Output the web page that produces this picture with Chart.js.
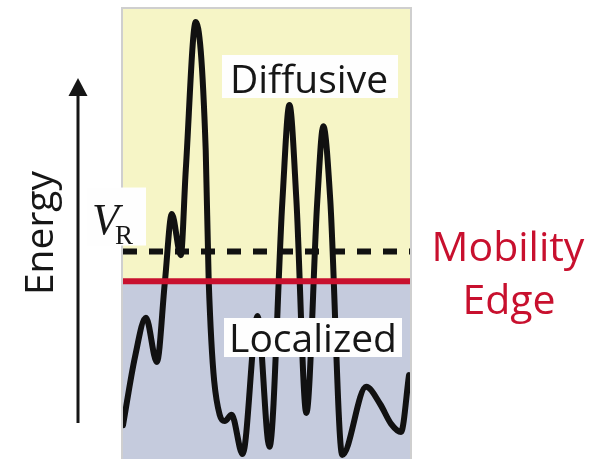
<!DOCTYPE html>
<html>
<head>
<meta charset="utf-8">
<script src="https://cdn.jsdelivr.net/npm/chart.js@4/dist/chart.umd.min.js"></script>
<style>
  html, body { margin: 0; padding: 0; background: #ffffff; }
  #wrap { width: 594px; height: 459px; position: relative; }
</style>
</head>
<body>
<div id="wrap"><canvas id="c" width="594" height="459"></canvas></div>
<script>
// Disordered potential landscape: position along the sample vs. energy
const positions = [0, 12, 23, 34, 42, 49, 58, 63, 73, 83, 86, 97, 102, 109, 120, 135, 147, 160, 167, 174, 184, 195, 201, 208, 220, 244, 258, 269, 279, 287];
const potential = [7.5, 22.6, 31.3, 21.5, 39.2, 54.3, 45.2, 64.1, 96.9, 68.5, 39.5, 9.8, 8.4, 9.8, 1.1, 31.7, 2.7, 57.4, 78.5, 57.4, 10.2, 57.4, 73.8, 57.4, 0.9, 16.0, 12.2, 7.8, 6.0, 18.6];

// Reference energies
const mobilityEdge = 39.4;
const vR = 46.0;

// Axis ranges
const xRange = [0, 288];
const energyRange = [0, 100];

// Labels
const upperLabel = 'Diffusive';
const lowerLabel = 'Localized';
const edgeLabel = ['Mobility', 'Edge'];
const axisLabel = 'Energy';

const curvePoints = positions.map((x, i) => ({ x: x, y: potential[i] }));
const edgePoints = [{ x: xRange[0], y: mobilityEdge }, { x: xRange[1], y: mobilityEdge }];
const vrPoints = [{ x: xRange[0], y: vR }, { x: xRange[1], y: vR }];

const SANS = '"Open Sans", "Noto Sans", sans-serif';
const SERIF = '"Liberation Serif", "DejaVu Serif", serif';

const regionsPlugin = {
  id: 'regions',
  beforeDatasetsDraw(chart) {
    const { ctx, chartArea: a, scales } = chart;
    const yEdge = scales.y.getPixelForValue(mobilityEdge);
    ctx.save();
    ctx.fillStyle = '#f6f5c6';
    ctx.fillRect(a.left, a.top, a.right - a.left, yEdge - a.top);
    ctx.fillStyle = '#c5cbdd';
    ctx.fillRect(a.left, yEdge, a.right - a.left, a.bottom - yEdge);
    // thin frame on left, top and right
    ctx.strokeStyle = '#cfcfcf';
    ctx.lineWidth = 2;
    ctx.beginPath();
    ctx.moveTo(a.left - 1, a.bottom + 2);
    ctx.lineTo(a.left - 1, a.top - 0);
    ctx.lineTo(a.right + 1, a.top - 0);
    ctx.lineTo(a.right + 1, a.bottom + 2);
    ctx.stroke();
    ctx.restore();
  },
  afterDatasetsDraw(chart) {
    const { ctx, scales } = chart;
    const yEdge = scales.y.getPixelForValue(mobilityEdge);
    const yVR = scales.y.getPixelForValue(vR);
    ctx.save();

    // label boxes
    ctx.fillStyle = '#fefefe';
    ctx.fillRect(222, 55, 176, 43);
    ctx.fillRect(224, 318, 178, 39);
    ctx.fillRect(87, yVR - 64, 59, 58);

    ctx.fillStyle = '#161616';
    ctx.textBaseline = 'alphabetic';
    ctx.textAlign = 'center';
    ctx.font = '39px ' + SANS;
    ctx.fillText(upperLabel, 309, 93);
    ctx.fillText(lowerLabel, 313, 352);

    // V_R
    ctx.textAlign = 'left';
    ctx.font = 'italic 44px ' + SERIF;
    ctx.fillText('V', 92, yVR - 18);
    ctx.font = '27px ' + SERIF;
    ctx.fillText('R', 115, yVR - 8);

    // mobility edge label
    ctx.fillStyle = '#c8102e';
    ctx.textAlign = 'center';
    ctx.font = '41px ' + SANS;
    ctx.fillText(edgeLabel[0], 508, yEdge - 20);
    ctx.fillText(edgeLabel[1], 509, yEdge + 33);

    // energy arrow
    ctx.strokeStyle = '#161616';
    ctx.fillStyle = '#161616';
    ctx.lineWidth = 3;
    ctx.beginPath();
    ctx.moveTo(78, 423);
    ctx.lineTo(78, 92);
    ctx.stroke();
    ctx.beginPath();
    ctx.moveTo(78, 78);
    ctx.lineTo(87.5, 96);
    ctx.lineTo(68.5, 96);
    ctx.closePath();
    ctx.fill();

    // rotated axis label
    ctx.translate(53, 233);
    ctx.rotate(-Math.PI / 2);
    ctx.textAlign = 'center';
    ctx.font = '39px ' + SANS;
    ctx.fillText(axisLabel, 0, 0);

    ctx.restore();
  }
};

function build() {
  new Chart(document.getElementById('c'), {
    type: 'line',
    data: {
      datasets: [
        {
          label: 'mobility edge',
          data: edgePoints,
          borderColor: '#c8102e',
          borderWidth: 6,
          pointRadius: 0,
          order: 0
        },
        {
          label: 'V_R',
          data: vrPoints,
          borderColor: '#111111',
          borderWidth: 6,
          borderDash: [14, 12],
          pointRadius: 0,
          order: 1
        },
        {
          label: 'potential',
          data: curvePoints,
          borderColor: '#111111',
          borderWidth: 6,
          pointRadius: 0,
          cubicInterpolationMode: 'monotone',
          borderCapStyle: 'round',
          borderJoinStyle: 'round',
          order: 2
        }
      ]
    },
    options: {
      responsive: false,
      animation: false,
      layout: { padding: { left: 123, right: 184, top: 8, bottom: 0 } },
      plugins: { legend: { display: false }, tooltip: { enabled: false } },
      scales: {
        x: { type: 'linear', min: xRange[0], max: xRange[1], display: false },
        y: { type: 'linear', min: energyRange[0], max: energyRange[1], display: false }
      }
    },
    plugins: [regionsPlugin]
  });
}

Promise.all([
  document.fonts.load('39px "Open Sans"'),
  document.fonts.load('italic 44px "Liberation Serif"'),
  document.fonts.load('27px "Liberation Serif"')
]).then(build, build);
</script>
</body>
</html>
